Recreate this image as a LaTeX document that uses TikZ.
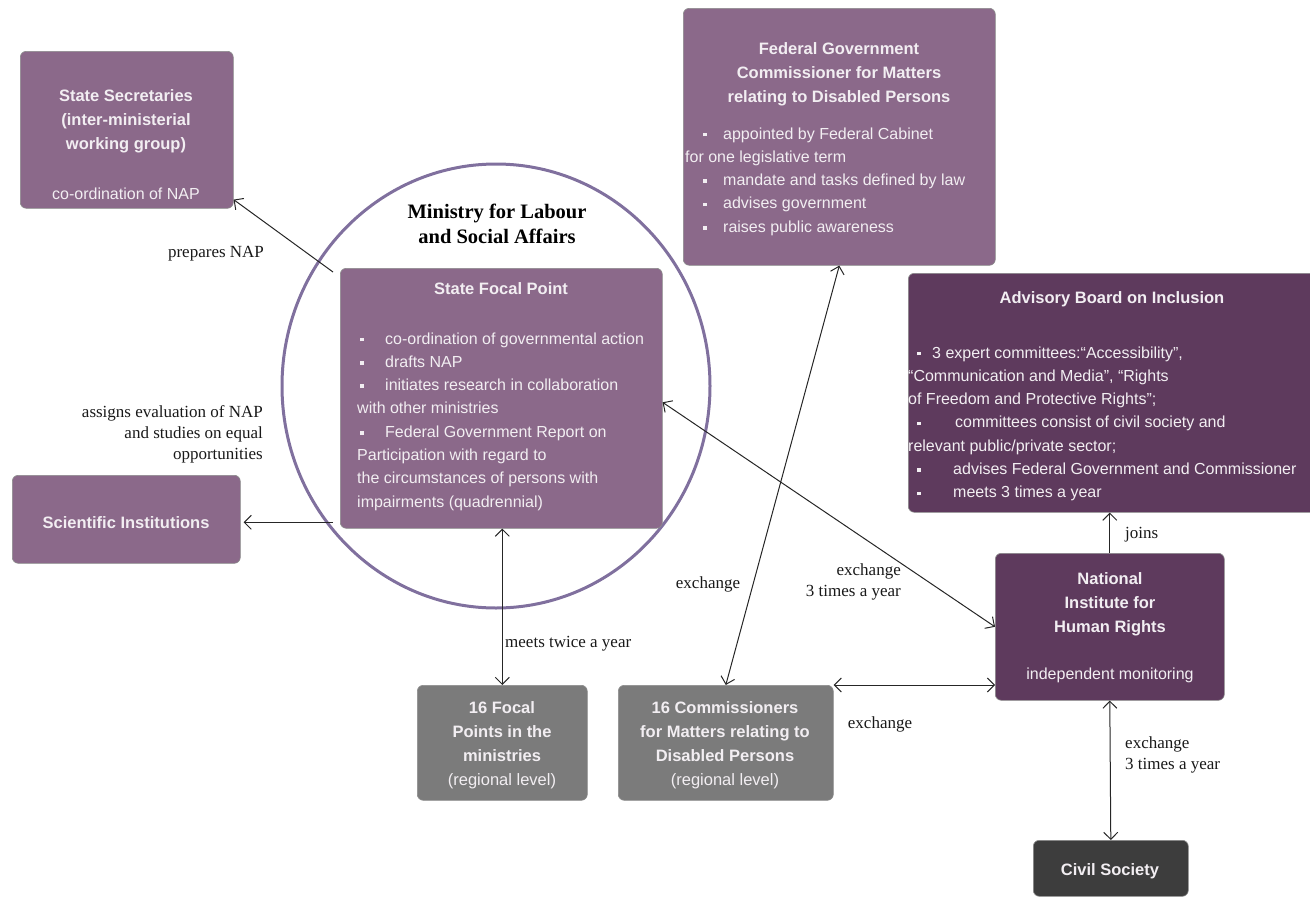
\documentclass[tikz,border=0pt]{standalone}
\usepackage{fontspec}
\setmainfont{Liberation Serif}
\setsansfont{Liberation Sans}
\usetikzlibrary{arrows.meta,calc,shapes.geometric}
\definecolor{mauve}{RGB}{139,105,138}
\definecolor{plum}{RGB}{94,58,93}
\definecolor{greybox}{RGB}{123,123,123}
\definecolor{darkbox}{RGB}{61,61,61}
\definecolor{ringcol}{RGB}{128,112,158}
\definecolor{boxtext}{RGB}{242,238,242}
\newcommand\bu[2]{\makebox[#2][l]{\hspace{#1}\rule[0.16em]{3.6pt}{3.6pt}}}
\begin{document}
\begin{tikzpicture}[x=1pt,y=-1pt,
  >={Straight Barb[length=7pt,width=14pt]},
  box/.style={draw=black!45, line width=0.6pt, rounded corners=6pt, inner sep=0pt, anchor=north west},
  ttl/.style={font=\sffamily\bfseries\fontsize{16.5}{24}\selectfont, text=boxtext, inner sep=0pt, align=center, anchor=north},
  bdy/.style={font=\sffamily\fontsize{16}{23.3}\selectfont, text=boxtext, inner sep=0pt, align=left, anchor=north west},
  bdyc/.style={bdy, align=center, anchor=north},
  lbl/.style={font=\fontsize{17}{21}\selectfont, text=black!90, inner sep=0pt},
  conn/.style={line width=1pt, black!85},
]
\useasboundingbox (0,0) rectangle (1310,897);

% ministry ring
\node[ellipse, draw=ringcol, line width=3pt, minimum width=428pt, minimum height=444pt, inner sep=0pt] (ring) at (496,386) {};

% boxes
\node[box, fill=mauve, minimum width=213pt, minimum height=157pt] (ss) at (20,51) {};
\node[box, fill=mauve, minimum width=322pt, minimum height=260pt] (sfp) at (340,268) {};
\node[box, fill=mauve, minimum width=312pt, minimum height=257pt] (fed) at (683,8) {};
\node[box, fill=plum, minimum width=420pt, minimum height=239pt] (adv) at (908,273) {};
\node[box, fill=plum, minimum width=229pt, minimum height=147pt] (ni) at (995,553) {};
\node[box, fill=darkbox, minimum width=155pt, minimum height=56pt] (cs) at (1033,840) {};
\node[box, fill=greybox, minimum width=170pt, minimum height=115pt] (fp) at (417,685) {};
\node[box, fill=greybox, minimum width=215pt, minimum height=115pt] (cm) at (618,685) {};
\node[box, fill=mauve, minimum width=228pt, minimum height=88pt] (si) at (12,475) {};

% box texts
\node[ttl] (sst) at (126,84) {\strut State Secretaries\\(inter-ministerial\\working group)};
\node[bdyc] (ssb) at (126,182.5) {\strut co-ordination of NAP};

\node[ttl] (sfpt) at (501,277) {\strut State Focal Point};
\node[bdy] (sfpb) at (357,327.5) {\strut\bu{3pt}{28pt}co-ordination of governmental action\\
\bu{3pt}{28pt}drafts NAP\\
\bu{3pt}{28pt}initiates research in collaboration\\
with other ministries\\
\bu{3pt}{28pt}Federal Government Report on\\
Participation with regard to\\
the circumstances of persons with\\
impairments (quadrennial)};

\node[ttl] (fedt) at (839,37) {\strut Federal Government\\Commissioner for Matters\\relating to Disabled Persons};
\node[bdy] (fedb) at (685,122.5) {\strut\bu{18pt}{38pt}appointed by Federal Cabinet\\
for one legislative term\\
\bu{18pt}{38pt}mandate and tasks defined by law\\
\bu{18pt}{38pt}advises government\\
\bu{18pt}{38pt}raises public awareness};

\node[ttl] (advt) at (1112,286) {\strut Advisory Board on Inclusion};
\node[bdy] (advb) at (908,341.5) {\strut\bu{9pt}{24pt}3 expert committees:“Accessibility”,\\
“Communication and Media”, “Rights\\
of Freedom and Protective Rights”;\\
\bu{9pt}{47pt}committees consist of civil society and\\
relevant public/private sector;\\
\bu{9pt}{45pt}advises Federal Government and Commissioner\\
\bu{9pt}{45pt}meets 3 times a year};

\node[ttl] (nit) at (1110,567) {\strut National\\Institute for\\Human Rights};
\node[bdyc] (nib) at (1110,662.5) {\strut independent monitoring};
\node[ttl] (cst) at (1110,858) {\strut Civil Society};
\node[ttl] (fpt) at (502,696) {\strut 16 Focal\\Points in the\\ministries\\{\mdseries (regional level)}};
\node[ttl] (cmt) at (725,696) {\strut 16 Commissioners\\for Matters relating to\\Disabled Persons\\{\mdseries (regional level)}};
\node[ttl] (sit) at (126,511) {\strut Scientific Institutions};

\node[font=\bfseries\fontsize{20.5}{25}\selectfont, align=center, anchor=north, inner sep=0pt] (mlt) at (497,201) {\strut Ministry for Labour\\and Social Affairs};

% labels
\node[lbl, anchor=north] (l1) at (216,242.9) {\strut prepares NAP};
\node[lbl, anchor=north east, align=right] (l2) at (263,402.9) {\strut assigns evaluation of NAP\\and studies on equal\\opportunities};
\node[lbl, anchor=north west] (l3) at (505,632.9) {\strut meets twice a year};
\node[lbl, anchor=north] (l4) at (708,573.9) {\strut exchange};
\node[lbl, anchor=north east, align=right] (l5) at (901,560.9) {\strut exchange\\3 times a year};
\node[lbl, anchor=north] (l6) at (880,713.9) {\strut exchange};
\node[lbl, anchor=north west] (l7) at (1125,523.9) {\strut joins};
\node[lbl, anchor=north west, align=left] (l8) at (1125,733.9) {\strut exchange\\3 times a year};

% connectors
\draw[conn,->] ($(sfp.north west)+(-7,4)$) -- ($(ss.south east)+(0,-9)$);
\draw[conn,->] ($(sfp.west |- si.east)+(-7,3)$) -- ($(si.east)+(3,3)$);
\draw[conn,<->] (sfp.south -| fp.north) -- (fp.north);
\draw[conn,<->] (fed.south) -- (cm.north);
\draw[conn,<->] ($(sfp.east)+(0,4)$) -- (ni.west);
\draw[conn,<->] (cm.north east) -- (cm.north east -| ni.west);
\draw[conn,->] (ni.north) -- (ni.north |- adv.south);
\draw[conn,<->] (ni.south) -- (cs.north);
\end{tikzpicture}
\end{document}
